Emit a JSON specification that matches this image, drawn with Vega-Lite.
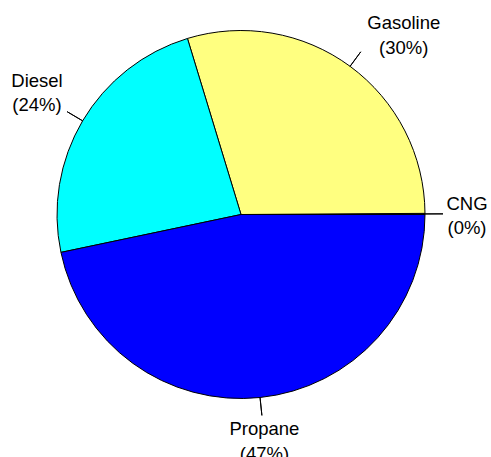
{
  "$schema": "https://vega.github.io/schema/vega-lite/v6.json",
  "width": 482,
  "height": 429,
  "autosize": {"type": "none"},
  "padding": {"left": 0, "top": 0, "right": 9, "bottom": 28},
  "background": "white",
  "config": {"view": {"stroke": null}, "text": {"font": "Liberation Sans"}},
  "data": {
    "values": [
      {"fuel": "CNG", "value": 0.1, "label": "CNG\n(0%)"},
      {"fuel": "Gasoline", "value": 29.6, "label": "Gasoline\n(30%)"},
      {"fuel": "Diesel", "value": 23.6, "label": "Diesel\n(24%)"},
      {"fuel": "Propane", "value": 46.7, "label": "Propane\n(47%)"}
    ]
  },
  "transform": [
    {"stack": "value", "groupby": [], "as": ["start", "end"]},
    {"calculate": "(datum.start + datum.end) / 2", "as": "mid"}
  ],
  "layer": [
    {
      "mark": {"type": "arc", "outerRadius": 184, "stroke": "black", "strokeWidth": 1},
      "encoding": {
        "theta": {"field": "start", "type": "quantitative", "stack": null,
          "scale": {"domain": [0, 100], "range": [1.5707963, -4.712389]}},
        "theta2": {"field": "end"},
        "color": {"field": "fuel", "type": "nominal", "legend": null,
          "scale": {"domain": ["CNG", "Gasoline", "Diesel", "Propane"],
                    "range": ["#FFFFFF", "#FFFF80", "#00FFFF", "#0000FF"]}}
      }
    },
    {
      "mark": {"type": "arc", "innerRadius": 184, "outerRadius": 202, "stroke": "black", "strokeWidth": 1, "fill": null},
      "encoding": {
        "theta": {"field": "mid", "type": "quantitative", "stack": null},
        "theta2": {"field": "mid"}
      }
    },
    {
      "transform": [{"filter": "datum.fuel == 'CNG' || datum.fuel == 'Propane'"}],
      "mark": {"type": "text", "radius": 226, "dx": 0, "dy": -10, "fontSize": 18.5, "lineBreak": "\n", "lineHeight": 24.5, "align": "center", "baseline": "middle", "color": "black"},
      "encoding": {
        "theta": {"field": "mid", "type": "quantitative", "stack": null},
        "text": {"field": "label"}
      }
    },
    {
      "transform": [{"filter": "datum.fuel == 'Diesel'"}],
      "mark": {"type": "text", "radius": 237, "dy": -13, "fontSize": 18.5, "lineBreak": "\n", "lineHeight": 24.5, "align": "center", "baseline": "middle", "color": "black"},
      "encoding": {
        "theta": {"field": "mid", "type": "quantitative", "stack": null},
        "text": {"field": "label"}
      }
    },
    {
      "transform": [{"filter": "datum.fuel == 'Gasoline'"}],
      "mark": {"type": "text", "radius": 229, "dx": 27, "dy": -7, "fontSize": 18.5, "lineBreak": "\n", "lineHeight": 24.5, "align": "center", "baseline": "middle", "color": "black"},
      "encoding": {
        "theta": {"field": "mid", "type": "quantitative", "stack": null},
        "text": {"field": "label"}
      }
    }
  ]
}
